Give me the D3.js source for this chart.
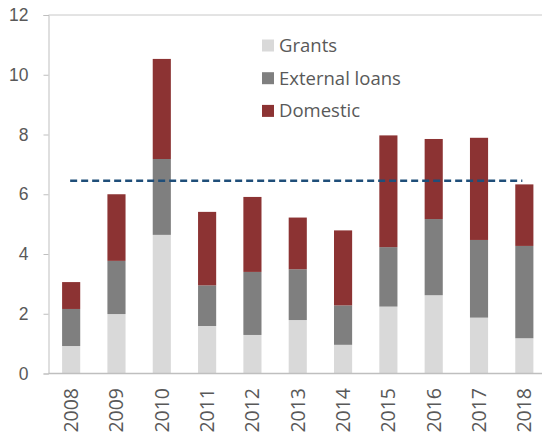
<!DOCTYPE html>
<html>
<head>
<meta charset="utf-8">
<script src="https://cdn.jsdelivr.net/npm/d3@7"></script>
<style>
  body { margin: 0; background: #fff; }
  svg { display: block; font-family: "Open Sans", "Noto Sans", sans-serif; }
</style>
</head>
<body>
<div id="chart"></div>
<script>
// data
var years = ["2008", "2009", "2010", "2011", "2012", "2013", "2014", "2015", "2016", "2017", "2018"];
var grants = [0.92, 1.99, 4.64, 1.59, 1.29, 1.79, 0.96, 2.24, 2.62, 1.87, 1.18];
var externalLoans = [1.24, 1.78, 2.54, 1.36, 2.11, 1.70, 1.32, 1.99, 2.55, 2.60, 3.09];
var domestic = [0.90, 2.23, 3.35, 2.46, 2.51, 1.73, 2.51, 3.74, 2.68, 3.42, 2.06];
var seriesNames = ["Grants", "External loans", "Domestic"];
var yTicks = [0, 2, 4, 6, 8, 10, 12];

var width = 542;
var height = 432;
var colors = ["#d9d9d9", "#7f7f7f", "#8c3333"];

var svg = d3.select("#chart")
  .append("svg")
  .attr("width", width)
  .attr("height", height)

var x = d3.scaleBand().domain(years).range([48.5, 547]).paddingInner(0.6).paddingOuter(0.3)
var y = d3.scaleLinear().domain([0, 12]).range([373.5, 15])

var rows = years.map(function (yr, i) {
  return { year: yr, Grants: grants[i], "External loans": externalLoans[i], Domestic: domestic[i] }
})
var stacked = d3.stack().keys(seriesNames)(rows)

// frame: top line
svg.append("line")
  .attr("x1", 48.5).attr("x2", width)
  .attr("y1", 15).attr("y2", 15)
  .attr("stroke", "#c8c8c8").attr("stroke-width", 1)

svg.selectAll(".layer")
  .data(stacked)
  .enter()
  .append("g")
  .attr("class", "layer")
  .attr("fill", function (d, i) { return colors[i] })
  .selectAll("rect")
  .data(function (d) { return d })
  .enter()
  .append("rect")
  .attr("x", function (d) { return x(d.data.year) })
  .attr("width", x.bandwidth())
  .attr("y", function (d) { return y(d[1]) })
  .attr("height", function (d) { return y(d[0]) - y(d[1]) })

// y axis
var yAxis = svg.append("g")
  .attr("transform", "translate(48.5,0)")
  .call(d3.axisLeft(y).tickValues(yTicks).tickSize(5).tickPadding(15))
yAxis.select(".domain").attr("stroke", "#bfbfbf")
yAxis.selectAll(".tick line").attr("stroke", "#bfbfbf")
yAxis.selectAll("text")
  .attr("fill", "#595959")
  .style("font-size", "17.5px")

// x axis line
svg.append("line")
  .attr("x1", 48.5).attr("x2", width)
  .attr("y1", 373.5).attr("y2", 373.5)
  .attr("stroke", "#bfbfbf").attr("stroke-width", 1.5)

svg.selectAll(".xlabel")
  .data(years)
  .enter()
  .append("text")
  .attr("class", "xlabel")
  .attr("transform", function (d) {
    return "translate(" + (x(d) + x.bandwidth() / 2 + 7) + ",388) rotate(-90)"
  })
  .attr("text-anchor", "end")
  .attr("fill", "#595959")
  .style("font-size", "19.5px")
  .text(function (d) { return d })

// average line
var totals = years.map(function (yr, i) { return grants[i] + externalLoans[i] + domestic[i] })
var avg = d3.mean(totals)
svg.append("line")
  .attr("x1", x(years[0]) + x.bandwidth() / 2 - 1)
  .attr("x2", x(years[years.length - 1]) + x.bandwidth() / 2 - 2)
  .attr("y1", y(avg)).attr("y2", y(avg))
  .attr("stroke", "#1f4e79")
  .attr("stroke-width", 2.5)
  .attr("stroke-dasharray", "7,4")

// legend
var legend = svg.selectAll(".legend")
  .data(seriesNames)
  .enter()
  .append("g")
  .attr("class", "legend")
  .attr("transform", function (d, i) { return "translate(262," + (45.5 + i * 32.7) + ")" })

legend.append("rect")
  .attr("x", 0).attr("y", -6)
  .attr("width", 12).attr("height", 12)
  .attr("fill", function (d, i) { return colors[i] })

legend.append("text")
  .attr("x", 17).attr("y", 6.5)
  .attr("fill", "#595959")
  .style("font-size", "18.5px")
  .text(function (d) { return d })
</script>
</body>
</html>
